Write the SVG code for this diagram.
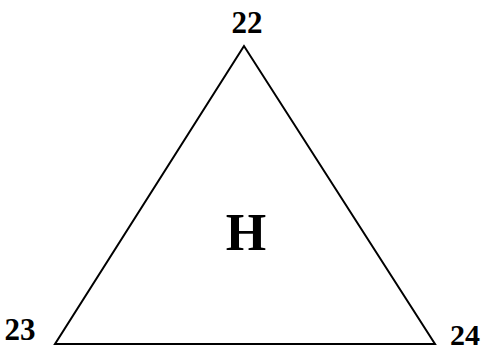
<svg xmlns="http://www.w3.org/2000/svg" width="486" height="350" viewBox="0 0 486 350">
<style>
.lbl{font-family:"Liberation Serif","Times New Roman",serif;font-weight:bold;fill:#000}
.edge{fill:none;stroke:#000;stroke-width:2;stroke-linejoin:miter}
</style>
<rect width="486" height="350" fill="#fff"/>
<g id="connectors">
<polygon class="edge" points="244,46 55,344 435,344"/>
</g>
<g id="node-22"><text class="lbl" x="247" y="33" font-size="31" text-anchor="middle">22</text></g>
<g id="node-23"><text class="lbl" x="20" y="340" font-size="31" text-anchor="middle">23</text></g>
<g id="node-24"><text class="lbl" x="465" y="345" font-size="30" text-anchor="middle">24</text></g>
<g id="node-H"><text class="lbl" x="246" y="250" font-size="52" text-anchor="middle">H</text></g>
</svg>
